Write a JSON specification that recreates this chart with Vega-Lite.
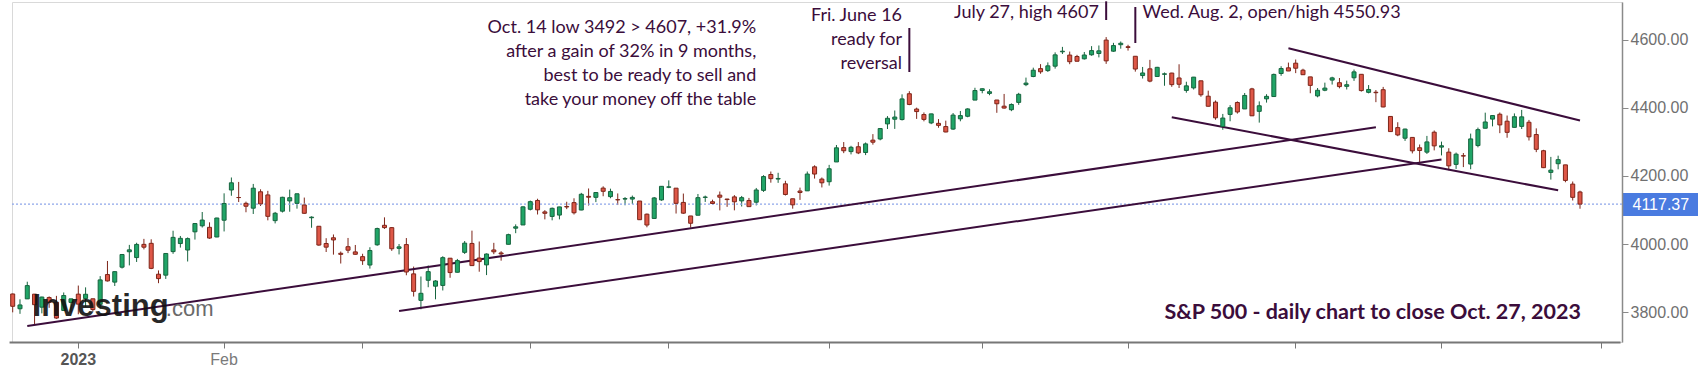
{
  "$schema": "https://vega.github.io/schema/vega-lite/v6.json",
  "width": 1610,
  "height": 340,
  "autosize": {"type": "none"},
  "padding": {"left": 12, "top": 2, "right": 76, "bottom": 29},
  "background": "#ffffff",
  "config": {"view": {"stroke": "#d9d9d9", "strokeWidth": 1}},
  "datasets": {
    "candles": [
      {"d":"2022-12-19","o":3853.8,"h":3854.9,"l":3800.0,"c":3817.7},
      {"d":"2022-12-20","o":3810.5,"h":3838.2,"l":3795.6,"c":3821.6},
      {"d":"2022-12-21","o":3839.5,"h":3889.8,"l":3839.5,"c":3878.4},
      {"d":"2022-12-22","o":3853.3,"h":3853.3,"l":3764.5,"c":3822.4},
      {"d":"2022-12-23","o":3815.1,"h":3845.8,"l":3797.0,"c":3844.8},
      {"d":"2022-12-27","o":3843.3,"h":3846.7,"l":3813.2,"c":3829.3},
      {"d":"2022-12-28","o":3829.6,"h":3848.3,"l":3780.8,"c":3783.2},
      {"d":"2022-12-29","o":3805.5,"h":3858.2,"l":3805.5,"c":3849.3},
      {"d":"2022-12-30","o":3829.1,"h":3839.9,"l":3800.3,"c":3839.5},
      {"d":"2023-01-03","o":3853.3,"h":3878.5,"l":3794.3,"c":3824.1},
      {"d":"2023-01-04","o":3840.4,"h":3873.2,"l":3815.8,"c":3853.0},
      {"d":"2023-01-05","o":3839.7,"h":3839.7,"l":3802.4,"c":3808.1},
      {"d":"2023-01-06","o":3823.4,"h":3906.2,"l":3809.6,"c":3895.1},
      {"d":"2023-01-09","o":3910.8,"h":3950.6,"l":3890.4,"c":3892.1},
      {"d":"2023-01-10","o":3888.6,"h":3919.8,"l":3877.3,"c":3919.3},
      {"d":"2023-01-11","o":3932.4,"h":3970.1,"l":3928.5,"c":3969.6},
      {"d":"2023-01-12","o":3977.6,"h":3997.8,"l":3937.6,"c":3983.2},
      {"d":"2023-01-13","o":3960.6,"h":4004.0,"l":3947.7,"c":3999.1},
      {"d":"2023-01-17","o":3999.3,"h":4015.4,"l":3984.6,"c":3991.0},
      {"d":"2023-01-18","o":4002.3,"h":4014.2,"l":3926.6,"c":3928.9},
      {"d":"2023-01-19","o":3911.8,"h":3922.9,"l":3885.5,"c":3898.9},
      {"d":"2023-01-20","o":3909.0,"h":3973.0,"l":3897.9,"c":3972.6},
      {"d":"2023-01-23","o":3978.1,"h":4039.3,"l":3971.6,"c":4019.8},
      {"d":"2023-01-24","o":4001.7,"h":4023.9,"l":3989.8,"c":4017.0},
      {"d":"2023-01-25","o":3982.7,"h":4019.6,"l":3949.1,"c":4016.2},
      {"d":"2023-01-26","o":4036.1,"h":4061.6,"l":4013.3,"c":4060.4},
      {"d":"2023-01-27","o":4053.7,"h":4094.2,"l":4048.7,"c":4070.6},
      {"d":"2023-01-30","o":4049.3,"h":4063.9,"l":4015.6,"c":4017.8},
      {"d":"2023-01-31","o":4020.9,"h":4077.2,"l":4020.4,"c":4076.6},
      {"d":"2023-02-01","o":4070.1,"h":4149.0,"l":4037.2,"c":4119.2},
      {"d":"2023-02-02","o":4158.7,"h":4195.4,"l":4141.9,"c":4179.8},
      {"d":"2023-02-03","o":4136.7,"h":4182.4,"l":4123.4,"c":4136.5},
      {"d":"2023-02-06","o":4119.6,"h":4124.6,"l":4093.4,"c":4111.1},
      {"d":"2023-02-07","o":4105.4,"h":4176.5,"l":4088.4,"c":4164.0},
      {"d":"2023-02-08","o":4153.5,"h":4160.8,"l":4111.9,"c":4117.9},
      {"d":"2023-02-09","o":4144.3,"h":4156.2,"l":4069.7,"c":4081.5},
      {"d":"2023-02-10","o":4068.9,"h":4094.4,"l":4060.8,"c":4090.5},
      {"d":"2023-02-13","o":4096.6,"h":4138.9,"l":4092.7,"c":4137.3},
      {"d":"2023-02-14","o":4126.7,"h":4159.8,"l":4095.0,"c":4136.1},
      {"d":"2023-02-15","o":4119.5,"h":4148.1,"l":4104.0,"c":4147.6},
      {"d":"2023-02-16","o":4114.8,"h":4136.5,"l":4089.5,"c":4090.4},
      {"d":"2023-02-17","o":4077.4,"h":4081.5,"l":4048.0,"c":4079.1},
      {"d":"2023-02-21","o":4052.4,"h":4052.4,"l":3995.2,"c":3997.3},
      {"d":"2023-02-22","o":4001.8,"h":4017.4,"l":3976.9,"c":3991.1},
      {"d":"2023-02-23","o":4018.6,"h":4028.3,"l":3969.2,"c":4012.3},
      {"d":"2023-02-24","o":3973.2,"h":3978.3,"l":3943.1,"c":3970.0},
      {"d":"2023-02-27","o":3992.4,"h":4018.1,"l":3973.6,"c":3982.2},
      {"d":"2023-02-28","o":3977.2,"h":3997.5,"l":3969.0,"c":3970.2},
      {"d":"2023-03-01","o":3963.3,"h":3971.7,"l":3939.1,"c":3951.4},
      {"d":"2023-03-02","o":3938.7,"h":3990.8,"l":3928.2,"c":3981.4},
      {"d":"2023-03-03","o":3998.0,"h":4048.3,"l":3995.2,"c":4045.6},
      {"d":"2023-03-06","o":4055.2,"h":4078.5,"l":4044.6,"c":4048.4},
      {"d":"2023-03-07","o":4048.3,"h":4050.0,"l":3980.3,"c":3986.4},
      {"d":"2023-03-08","o":3987.6,"h":4000.4,"l":3969.8,"c":3992.0},
      {"d":"2023-03-09","o":3998.7,"h":4017.8,"l":3908.7,"c":3918.3},
      {"d":"2023-03-10","o":3912.8,"h":3934.1,"l":3846.3,"c":3861.6},
      {"d":"2023-03-13","o":3835.1,"h":3905.1,"l":3808.9,"c":3855.8},
      {"d":"2023-03-14","o":3894.0,"h":3937.3,"l":3873.6,"c":3919.3},
      {"d":"2023-03-15","o":3876.7,"h":3894.3,"l":3838.2,"c":3891.9},
      {"d":"2023-03-16","o":3878.9,"h":3964.5,"l":3864.1,"c":3960.3},
      {"d":"2023-03-17","o":3958.7,"h":3958.9,"l":3901.3,"c":3916.6},
      {"d":"2023-03-20","o":3917.5,"h":3956.6,"l":3916.9,"c":3951.6},
      {"d":"2023-03-21","o":3975.9,"h":4009.1,"l":3971.2,"c":4002.9},
      {"d":"2023-03-22","o":4002.0,"h":4039.5,"l":3936.2,"c":3937.0},
      {"d":"2023-03-23","o":3959.2,"h":4007.7,"l":3919.1,"c":3948.7},
      {"d":"2023-03-24","o":3939.2,"h":3972.7,"l":3909.2,"c":3971.0},
      {"d":"2023-03-27","o":3982.9,"h":4003.8,"l":3970.5,"c":3977.5},
      {"d":"2023-03-28","o":3974.1,"h":3979.2,"l":3951.5,"c":3971.3},
      {"d":"2023-03-29","o":3999.5,"h":4030.6,"l":3999.5,"c":4027.8},
      {"d":"2023-03-30","o":4046.7,"h":4057.9,"l":4032.1,"c":4050.8},
      {"d":"2023-03-31","o":4056.2,"h":4110.8,"l":4056.2,"c":4109.3},
      {"d":"2023-04-03","o":4102.2,"h":4127.7,"l":4098.8,"c":4124.5},
      {"d":"2023-04-04","o":4128.0,"h":4133.1,"l":4086.9,"c":4100.6},
      {"d":"2023-04-05","o":4094.5,"h":4099.7,"l":4072.6,"c":4090.4},
      {"d":"2023-04-06","o":4081.2,"h":4107.3,"l":4069.8,"c":4105.0},
      {"d":"2023-04-10","o":4085.2,"h":4109.5,"l":4072.6,"c":4109.1},
      {"d":"2023-04-11","o":4110.3,"h":4124.3,"l":4102.6,"c":4108.9},
      {"d":"2023-04-12","o":4121.7,"h":4134.4,"l":4086.9,"c":4092.0},
      {"d":"2023-04-13","o":4100.0,"h":4150.3,"l":4099.4,"c":4146.2},
      {"d":"2023-04-14","o":4140.1,"h":4163.2,"l":4113.2,"c":4137.6},
      {"d":"2023-04-17","o":4137.2,"h":4151.7,"l":4123.2,"c":4151.3},
      {"d":"2023-04-18","o":4164.3,"h":4169.5,"l":4140.4,"c":4154.9},
      {"d":"2023-04-19","o":4139.3,"h":4162.6,"l":4134.5,"c":4154.5},
      {"d":"2023-04-20","o":4130.5,"h":4148.6,"l":4114.6,"c":4129.8},
      {"d":"2023-04-21","o":4132.1,"h":4138.0,"l":4113.9,"c":4133.5},
      {"d":"2023-04-24","o":4132.1,"h":4142.4,"l":4117.8,"c":4137.0},
      {"d":"2023-04-25","o":4126.4,"h":4126.4,"l":4071.4,"c":4071.6},
      {"d":"2023-04-26","o":4087.8,"h":4089.7,"l":4049.4,"c":4056.0},
      {"d":"2023-04-27","o":4075.3,"h":4138.2,"l":4075.3,"c":4135.4},
      {"d":"2023-04-28","o":4129.6,"h":4170.1,"l":4127.2,"c":4169.5},
      {"d":"2023-05-01","o":4166.8,"h":4186.9,"l":4164.1,"c":4167.9},
      {"d":"2023-05-02","o":4164.1,"h":4164.1,"l":4089.7,"c":4119.6},
      {"d":"2023-05-03","o":4122.3,"h":4148.3,"l":4088.9,"c":4090.8},
      {"d":"2023-05-04","o":4082.6,"h":4082.6,"l":4048.3,"c":4061.2},
      {"d":"2023-05-05","o":4084.7,"h":4147.0,"l":4084.7,"c":4136.3},
      {"d":"2023-05-08","o":4137.0,"h":4142.3,"l":4123.8,"c":4138.1},
      {"d":"2023-05-09","o":4124.3,"h":4130.4,"l":4116.7,"c":4119.2},
      {"d":"2023-05-10","o":4143.7,"h":4154.3,"l":4098.9,"c":4137.6},
      {"d":"2023-05-11","o":4132.2,"h":4132.8,"l":4109.3,"c":4130.6},
      {"d":"2023-05-12","o":4138.5,"h":4143.7,"l":4099.1,"c":4124.1},
      {"d":"2023-05-15","o":4126.7,"h":4141.3,"l":4110.3,"c":4136.3},
      {"d":"2023-05-16","o":4128.0,"h":4135.5,"l":4109.9,"c":4109.9},
      {"d":"2023-05-17","o":4122.9,"h":4164.7,"l":4113.6,"c":4158.8},
      {"d":"2023-05-18","o":4157.7,"h":4202.2,"l":4153.1,"c":4198.1},
      {"d":"2023-05-19","o":4204.2,"h":4212.9,"l":4180.2,"c":4192.0},
      {"d":"2023-05-22","o":4190.8,"h":4209.2,"l":4179.7,"c":4192.6},
      {"d":"2023-05-23","o":4176.8,"h":4185.7,"l":4142.5,"c":4145.6},
      {"d":"2023-05-24","o":4133.0,"h":4133.0,"l":4104.0,"c":4115.2},
      {"d":"2023-05-25","o":4155.7,"h":4165.7,"l":4129.7,"c":4151.3},
      {"d":"2023-05-26","o":4156.2,"h":4212.9,"l":4156.2,"c":4205.5},
      {"d":"2023-05-30","o":4226.7,"h":4231.1,"l":4192.2,"c":4205.5},
      {"d":"2023-05-31","o":4190.7,"h":4195.4,"l":4166.2,"c":4179.8},
      {"d":"2023-06-01","o":4183.0,"h":4232.4,"l":4171.6,"c":4221.0},
      {"d":"2023-06-02","o":4241.0,"h":4290.7,"l":4241.0,"c":4282.4},
      {"d":"2023-06-05","o":4283.0,"h":4299.3,"l":4266.8,"c":4273.8},
      {"d":"2023-06-06","o":4271.3,"h":4288.3,"l":4263.1,"c":4283.9},
      {"d":"2023-06-07","o":4285.5,"h":4299.2,"l":4264.0,"c":4267.5},
      {"d":"2023-06-08","o":4268.7,"h":4298.0,"l":4261.1,"c":4293.9},
      {"d":"2023-06-09","o":4304.9,"h":4322.6,"l":4291.7,"c":4298.9},
      {"d":"2023-06-12","o":4308.3,"h":4340.1,"l":4304.4,"c":4338.9},
      {"d":"2023-06-13","o":4352.6,"h":4375.4,"l":4337.5,"c":4369.0},
      {"d":"2023-06-14","o":4366.3,"h":4391.8,"l":4337.9,"c":4372.6},
      {"d":"2023-06-15","o":4365.3,"h":4439.2,"l":4362.6,"c":4425.8},
      {"d":"2023-06-16","o":4441.0,"h":4448.5,"l":4407.4,"c":4409.6},
      {"d":"2023-06-20","o":4396.1,"h":4400.2,"l":4367.2,"c":4388.7},
      {"d":"2023-06-21","o":4380.0,"h":4386.2,"l":4360.1,"c":4365.7},
      {"d":"2023-06-22","o":4355.4,"h":4382.3,"l":4351.8,"c":4381.9},
      {"d":"2023-06-23","o":4354.2,"h":4366.6,"l":4341.3,"c":4348.3},
      {"d":"2023-06-26","o":4344.8,"h":4362.1,"l":4328.1,"c":4328.8},
      {"d":"2023-06-27","o":4337.4,"h":4384.4,"l":4335.0,"c":4378.4},
      {"d":"2023-06-28","o":4367.5,"h":4390.4,"l":4360.2,"c":4376.9},
      {"d":"2023-06-29","o":4374.9,"h":4398.4,"l":4372.0,"c":4396.4},
      {"d":"2023-06-30","o":4422.4,"h":4458.5,"l":4422.4,"c":4450.4},
      {"d":"2023-07-03","o":4450.5,"h":4456.5,"l":4442.3,"c":4455.6},
      {"d":"2023-07-05","o":4442.0,"h":4454.1,"l":4436.6,"c":4446.8},
      {"d":"2023-07-06","o":4422.6,"h":4422.6,"l":4385.1,"c":4411.6},
      {"d":"2023-07-07","o":4404.5,"h":4440.4,"l":4397.4,"c":4399.0},
      {"d":"2023-07-10","o":4394.2,"h":4412.6,"l":4389.9,"c":4409.5},
      {"d":"2023-07-11","o":4415.6,"h":4443.6,"l":4408.5,"c":4439.3},
      {"d":"2023-07-12","o":4467.7,"h":4488.3,"l":4463.2,"c":4472.2},
      {"d":"2023-07-13","o":4491.5,"h":4517.4,"l":4489.4,"c":4510.0},
      {"d":"2023-07-14","o":4514.6,"h":4527.8,"l":4499.6,"c":4505.4},
      {"d":"2023-07-17","o":4508.9,"h":4532.9,"l":4504.9,"c":4522.8},
      {"d":"2023-07-18","o":4521.8,"h":4562.3,"l":4514.6,"c":4555.0},
      {"d":"2023-07-19","o":4563.9,"h":4578.4,"l":4557.5,"c":4565.7},
      {"d":"2023-07-20","o":4554.4,"h":4564.7,"l":4527.6,"c":4534.9},
      {"d":"2023-07-21","o":4550.2,"h":4555.0,"l":4535.8,"c":4536.3},
      {"d":"2023-07-24","o":4543.4,"h":4563.4,"l":4541.3,"c":4554.6},
      {"d":"2023-07-25","o":4555.2,"h":4580.6,"l":4552.4,"c":4567.5},
      {"d":"2023-07-26","o":4559.0,"h":4582.5,"l":4547.6,"c":4566.8},
      {"d":"2023-07-27","o":4598.3,"h":4607.1,"l":4528.6,"c":4537.4},
      {"d":"2023-07-28","o":4565.8,"h":4590.2,"l":4564.0,"c":4582.2},
      {"d":"2023-07-31","o":4584.8,"h":4594.2,"l":4573.1,"c":4589.0},
      {"d":"2023-08-01","o":4578.8,"h":4584.6,"l":4567.5,"c":4576.7},
      {"d":"2023-08-02","o":4550.9,"h":4550.9,"l":4505.8,"c":4513.4},
      {"d":"2023-08-03","o":4494.3,"h":4519.5,"l":4485.5,"c":4501.9},
      {"d":"2023-08-04","o":4514.0,"h":4540.3,"l":4474.6,"c":4478.0},
      {"d":"2023-08-07","o":4491.6,"h":4519.8,"l":4491.2,"c":4518.4},
      {"d":"2023-08-08","o":4498.0,"h":4503.3,"l":4464.4,"c":4499.4},
      {"d":"2023-08-09","o":4501.6,"h":4502.4,"l":4461.3,"c":4467.7},
      {"d":"2023-08-10","o":4487.2,"h":4527.4,"l":4457.9,"c":4468.8},
      {"d":"2023-08-11","o":4450.7,"h":4476.2,"l":4444.0,"c":4464.1},
      {"d":"2023-08-14","o":4458.1,"h":4490.3,"l":4453.4,"c":4489.7},
      {"d":"2023-08-15","o":4478.9,"h":4478.9,"l":4432.2,"c":4437.9},
      {"d":"2023-08-16","o":4433.8,"h":4450.0,"l":4403.6,"c":4404.3},
      {"d":"2023-08-17","o":4416.3,"h":4421.2,"l":4364.8,"c":4370.4},
      {"d":"2023-08-18","o":4344.9,"h":4381.8,"l":4335.3,"c":4369.7},
      {"d":"2023-08-21","o":4380.3,"h":4407.6,"l":4360.3,"c":4399.8},
      {"d":"2023-08-22","o":4415.3,"h":4418.6,"l":4382.8,"c":4387.6},
      {"d":"2023-08-23","o":4396.4,"h":4443.2,"l":4396.4,"c":4436.0},
      {"d":"2023-08-24","o":4455.2,"h":4458.3,"l":4375.6,"c":4376.3},
      {"d":"2023-08-25","o":4389.4,"h":4418.5,"l":4356.3,"c":4405.7},
      {"d":"2023-08-28","o":4426.0,"h":4439.6,"l":4415.0,"c":4433.3},
      {"d":"2023-08-29","o":4432.8,"h":4500.1,"l":4431.7,"c":4497.6},
      {"d":"2023-08-30","o":4500.3,"h":4521.7,"l":4493.6,"c":4514.9},
      {"d":"2023-08-31","o":4517.0,"h":4532.3,"l":4507.4,"c":4507.7},
      {"d":"2023-09-01","o":4530.6,"h":4541.3,"l":4501.4,"c":4515.8},
      {"d":"2023-09-05","o":4510.1,"h":4514.3,"l":4496.0,"c":4496.8},
      {"d":"2023-09-06","o":4490.4,"h":4490.4,"l":4442.4,"c":4465.5},
      {"d":"2023-09-07","o":4434.6,"h":4457.8,"l":4430.5,"c":4451.1},
      {"d":"2023-09-08","o":4451.3,"h":4473.5,"l":4448.4,"c":4457.5},
      {"d":"2023-09-11","o":4481.0,"h":4490.8,"l":4467.9,"c":4487.5},
      {"d":"2023-09-12","o":4473.3,"h":4487.1,"l":4456.8,"c":4461.9},
      {"d":"2023-09-13","o":4462.7,"h":4479.4,"l":4453.5,"c":4467.4},
      {"d":"2023-09-14","o":4487.8,"h":4512.0,"l":4478.7,"c":4505.1},
      {"d":"2023-09-15","o":4498.0,"h":4498.0,"l":4447.2,"c":4450.3},
      {"d":"2023-09-18","o":4445.1,"h":4466.4,"l":4442.1,"c":4453.5},
      {"d":"2023-09-19","o":4445.4,"h":4451.9,"l":4416.3,"c":4444.0},
      {"d":"2023-09-20","o":4452.8,"h":4461.0,"l":4401.4,"c":4402.2},
      {"d":"2023-09-21","o":4374.4,"h":4375.7,"l":4329.2,"c":4330.0},
      {"d":"2023-09-22","o":4341.7,"h":4357.4,"l":4316.5,"c":4320.1},
      {"d":"2023-09-25","o":4310.6,"h":4338.5,"l":4302.7,"c":4337.4},
      {"d":"2023-09-26","o":4312.9,"h":4313.0,"l":4266.0,"c":4273.5},
      {"d":"2023-09-27","o":4282.6,"h":4292.1,"l":4238.6,"c":4274.5},
      {"d":"2023-09-28","o":4269.7,"h":4317.3,"l":4264.4,"c":4299.7},
      {"d":"2023-09-29","o":4328.2,"h":4333.2,"l":4274.9,"c":4288.1},
      {"d":"2023-10-02","o":4284.5,"h":4300.6,"l":4260.2,"c":4288.4},
      {"d":"2023-10-03","o":4269.8,"h":4281.2,"l":4216.5,"c":4229.5},
      {"d":"2023-10-04","o":4233.8,"h":4268.5,"l":4220.5,"c":4263.8},
      {"d":"2023-10-05","o":4259.3,"h":4267.1,"l":4225.9,"c":4258.2},
      {"d":"2023-10-06","o":4234.8,"h":4324.1,"l":4219.6,"c":4308.5},
      {"d":"2023-10-09","o":4289.0,"h":4341.7,"l":4283.8,"c":4335.7},
      {"d":"2023-10-10","o":4339.8,"h":4385.5,"l":4339.6,"c":4358.2},
      {"d":"2023-10-11","o":4366.6,"h":4378.6,"l":4345.3,"c":4377.0},
      {"d":"2023-10-12","o":4380.9,"h":4385.9,"l":4325.4,"c":4349.6},
      {"d":"2023-10-13","o":4360.5,"h":4377.1,"l":4312.0,"c":4327.8},
      {"d":"2023-10-16","o":4342.4,"h":4383.3,"l":4342.4,"c":4373.6},
      {"d":"2023-10-17","o":4345.2,"h":4393.6,"l":4337.5,"c":4373.2},
      {"d":"2023-10-18","o":4357.4,"h":4364.2,"l":4303.8,"c":4314.6},
      {"d":"2023-10-19","o":4321.4,"h":4339.5,"l":4269.7,"c":4278.0},
      {"d":"2023-10-20","o":4273.9,"h":4276.6,"l":4223.0,"c":4224.2},
      {"d":"2023-10-23","o":4210.4,"h":4255.8,"l":4189.2,"c":4217.0},
      {"d":"2023-10-24","o":4235.8,"h":4259.4,"l":4219.4,"c":4247.7},
      {"d":"2023-10-25","o":4232.4,"h":4232.4,"l":4181.4,"c":4186.8},
      {"d":"2023-10-26","o":4176.0,"h":4183.6,"l":4127.9,"c":4137.2},
      {"d":"2023-10-27","o":4152.9,"h":4156.7,"l":4103.8,"c":4117.37}
    ],
    "trend": [
      {"id":"A","d":"2022-12-21","v":3759.9},
      {"id":"A","d":"2023-09-19","v":4342.4},
      {"id":"B","d":"2023-03-08","v":3803.6},
      {"id":"B","d":"2023-10-02","v":4248.1},
      {"id":"C","d":"2023-08-09","v":4371.9},
      {"id":"C","d":"2023-10-24","v":4157.8},
      {"id":"D","d":"2023-08-31","v":4574.2},
      {"id":"D","d":"2023-10-27","v":4362.5}
    ],
    "pointers": [
      {"d":"2023-06-16","lo":4504.7,"hi":4633.8},
      {"d":"2023-07-27","lo":4657.2,"hi":4712},
      {"d":"2023-08-02","lo":4589.8,"hi":4695.3}
    ],
    "notesRight": [
      {"d":"2023-05-17","v":4632.3,"t":"Oct. 14 low 3492 > 4607, +31.9%\nafter a gain of 32% in 9 months,\nbest to be ready to sell and\ntake your money off the table"},
      {"d":"2023-06-15","v":4669.0,"t":"Fri. June 16\nready for\nreversal"},
      {"d":"2023-07-26","v":4677.7,"t":"July 27, high 4607"}
    ],
    "notesLeft": [
      {"d":"2023-08-03","v":4677.7,"t":"Wed. Aug. 2, open/high 4550.93"}
    ],
    "caption": [
      {"d":"2023-08-08","v":3798,"t":"S&P 500 - daily chart to close Oct. 27, 2023"}
    ],
    "logo": [
      {"d":"2022-12-22","v":3789.3,"t":"Investing"}
    ],
    "logoCom": [
      {"d":"2023-01-20","v":3789.3,"t":".com"}
    ],
    "last": [
      {"v":4117.37}
    ]
  },
  "layer": [
    {
      "data": {"name": "candles"},
      "mark": {"type": "rule", "strokeWidth": 1},
      "encoding": {
        "x": {
          "field": "d", "type": "ordinal",
          "scale": {
            "type": "band",
            "domain": ["2022-12-19","2022-12-20","2022-12-21","2022-12-22","2022-12-23","2022-12-27","2022-12-28","2022-12-29","2022-12-30",
              "2023-01-03","2023-01-04","2023-01-05","2023-01-06","2023-01-09","2023-01-10","2023-01-11","2023-01-12","2023-01-13","2023-01-17","2023-01-18","2023-01-19","2023-01-20","2023-01-23","2023-01-24","2023-01-25","2023-01-26","2023-01-27","2023-01-30","2023-01-31",
              "2023-02-01","2023-02-02","2023-02-03","2023-02-06","2023-02-07","2023-02-08","2023-02-09","2023-02-10","2023-02-13","2023-02-14","2023-02-15","2023-02-16","2023-02-17","2023-02-21","2023-02-22","2023-02-23","2023-02-24","2023-02-27","2023-02-28",
              "2023-03-01","2023-03-02","2023-03-03","2023-03-06","2023-03-07","2023-03-08","2023-03-09","2023-03-10","2023-03-13","2023-03-14","2023-03-15","2023-03-16","2023-03-17","2023-03-20","2023-03-21","2023-03-22","2023-03-23","2023-03-24","2023-03-27","2023-03-28","2023-03-29","2023-03-30","2023-03-31",
              "2023-04-03","2023-04-04","2023-04-05","2023-04-06","2023-04-10","2023-04-11","2023-04-12","2023-04-13","2023-04-14","2023-04-17","2023-04-18","2023-04-19","2023-04-20","2023-04-21","2023-04-24","2023-04-25","2023-04-26","2023-04-27","2023-04-28",
              "2023-05-01","2023-05-02","2023-05-03","2023-05-04","2023-05-05","2023-05-08","2023-05-09","2023-05-10","2023-05-11","2023-05-12","2023-05-15","2023-05-16","2023-05-17","2023-05-18","2023-05-19","2023-05-22","2023-05-23","2023-05-24","2023-05-25","2023-05-26","2023-05-30","2023-05-31",
              "2023-06-01","2023-06-02","2023-06-05","2023-06-06","2023-06-07","2023-06-08","2023-06-09","2023-06-12","2023-06-13","2023-06-14","2023-06-15","2023-06-16","2023-06-20","2023-06-21","2023-06-22","2023-06-23","2023-06-26","2023-06-27","2023-06-28","2023-06-29","2023-06-30",
              "2023-07-03","2023-07-05","2023-07-06","2023-07-07","2023-07-10","2023-07-11","2023-07-12","2023-07-13","2023-07-14","2023-07-17","2023-07-18","2023-07-19","2023-07-20","2023-07-21","2023-07-24","2023-07-25","2023-07-26","2023-07-27","2023-07-28","2023-07-31",
              "2023-08-01","2023-08-02","2023-08-03","2023-08-04","2023-08-07","2023-08-08","2023-08-09","2023-08-10","2023-08-11","2023-08-14","2023-08-15","2023-08-16","2023-08-17","2023-08-18","2023-08-21","2023-08-22","2023-08-23","2023-08-24","2023-08-25","2023-08-28","2023-08-29","2023-08-30","2023-08-31",
              "2023-09-01","2023-09-05","2023-09-06","2023-09-07","2023-09-08","2023-09-11","2023-09-12","2023-09-13","2023-09-14","2023-09-15","2023-09-18","2023-09-19","2023-09-20","2023-09-21","2023-09-22","2023-09-25","2023-09-26","2023-09-27","2023-09-28","2023-09-29",
              "2023-10-02","2023-10-03","2023-10-04","2023-10-05","2023-10-06","2023-10-09","2023-10-10","2023-10-11","2023-10-12","2023-10-13","2023-10-16","2023-10-17","2023-10-18","2023-10-19","2023-10-20","2023-10-23","2023-10-24","2023-10-25","2023-10-26","2023-10-27","2023-10-30","2023-10-31",
              "2023-11-01","2023-11-02","2023-11-03"],
            "range": [-2.95, 1608.1],
            "paddingInner": 0.45,
            "paddingOuter": 0.225
          },
          "axis": {
            "values": ["2023-01-03","2023-02-01","2023-03-01","2023-04-03","2023-05-01","2023-06-01","2023-07-03","2023-08-01","2023-09-01","2023-10-02","2023-11-01"],
            "labelExpr": "datum.value == '2023-01-03' ? '2023' : (datum.value == '2023-02-01' ? 'Feb' : '')",
            "bandPosition": 0.5,
            "labelAngle": 0,
            "labelFont": "Liberation Sans",
            "labelFontSize": 16,
            "labelFontWeight": {"condition": {"test": "datum.value == '2023-01-03'", "value": "bold"}, "value": "normal"},
            "labelColor": {"condition": {"test": "datum.value == '2023-01-03'", "value": "#555555"}, "value": "#7a7a7a"},
            "labelPadding": 3,
            "labelOverlap": false,
            "tickSize": 6,
            "tickColor": "#777777",
            "domainColor": "#777777",
            "domainWidth": 2,
            "title": null
          }
        },
        "y": {
          "field": "l", "type": "quantitative",
          "scale": {"domain": [3713, 4710], "nice": false, "zero": false},
          "axis": {
            "orient": "right",
            "values": [3800, 4000, 4117.37, 4200, 4400, 4600],
            "format": ".2f",
            "title": null,
            "grid": false,
            "labelFont": "Liberation Sans",
            "labelFontSize": 16,
            "labelOverlap": false,
            "labelBound": false,
            "labelPadding": {"condition": {"test": "datum.value == 4117.37", "value": -66}, "value": 2},
            "labelColor": {"condition": {"test": "datum.value == 4117.37", "value": "#ffffff"}, "value": "#707070"},
            "tickColor": {"condition": {"test": "datum.value == 4117.37", "value": "#4a7be0"}, "value": "#8a8a8a"},
            "tickWidth": {"condition": {"test": "datum.value == 4117.37", "value": 23}, "value": 1},
            "tickSize": {"condition": {"test": "datum.value == 4117.37", "value": 76}, "value": 6},
            "domainColor": "#8a8a8a",
            "domainWidth": 1.5
          }
        },
        "y2": {"field": "h"},
        "color": {"condition": {"test": "datum.c >= datum.o", "value": "#16643e"}, "value": "#7e2519"}
      }
    },
    {
      "data": {"name": "last"},
      "mark": {"type": "rule", "strokeDash": [2, 2], "color": "#8ea6ea", "strokeWidth": 1.2},
      "encoding": {
        "y": {"field": "v", "type": "quantitative"}
      }
    },
    {
      "data": {"name": "trend"},
      "mark": {"type": "line", "strokeWidth": 2, "color": "#3b0d3b"},
      "encoding": {
        "x": {"field": "d", "type": "ordinal"},
        "y": {"field": "v", "type": "quantitative"},
        "detail": {"field": "id"}
      }
    },
    {
      "data": {"name": "pointers"},
      "mark": {"type": "rule", "strokeWidth": 2, "color": "#3b0d3b"},
      "encoding": {
        "x": {"field": "d", "type": "ordinal"},
        "y": {"field": "lo", "type": "quantitative"},
        "y2": {"field": "hi"}
      }
    },
    {
      "data": {"name": "candles"},
      "mark": {"type": "bar", "strokeWidth": 1},
      "encoding": {
        "x": {"field": "d", "type": "ordinal"},
        "y": {"field": "o", "type": "quantitative"},
        "y2": {"field": "c"},
        "fill": {"condition": {"test": "datum.c >= datum.o", "value": "#20a567"}, "value": "#de5747"},
        "stroke": {"condition": {"test": "datum.c >= datum.o", "value": "#16643e"}, "value": "#7e2519"}
      }
    },
    {
      "data": {"name": "logo"},
      "mark": {"type": "text", "align": "left", "baseline": "alphabetic", "font": "Liberation Sans", "fontSize": 31, "fontWeight": "bold", "color": "#111111", "opacity": 0.9},
      "encoding": {
        "x": {"field": "d", "type": "ordinal", "bandPosition": 0},
        "y": {"field": "v", "type": "quantitative"},
        "text": {"field": "t"}
      }
    },
    {
      "data": {"name": "logoCom"},
      "mark": {"type": "text", "align": "left", "baseline": "alphabetic", "font": "Liberation Sans", "fontSize": 22, "color": "#6a6a6a"},
      "encoding": {
        "x": {"field": "d", "type": "ordinal"},
        "y": {"field": "v", "type": "quantitative"},
        "text": {"field": "t"}
      }
    },
    {
      "data": {"name": "notesRight"},
      "mark": {"type": "text", "align": "right", "baseline": "middle", "font": "Lato", "fontSize": 18, "lineBreak": "\n", "lineHeight": 24, "color": "#3b0d3b"},
      "encoding": {
        "x": {"field": "d", "type": "ordinal"},
        "y": {"field": "v", "type": "quantitative"},
        "text": {"field": "t"}
      }
    },
    {
      "data": {"name": "notesLeft"},
      "mark": {"type": "text", "align": "left", "baseline": "middle", "font": "Lato", "fontSize": 18, "color": "#3b0d3b"},
      "encoding": {
        "x": {"field": "d", "type": "ordinal"},
        "y": {"field": "v", "type": "quantitative"},
        "text": {"field": "t"}
      }
    },
    {
      "data": {"name": "caption"},
      "mark": {"type": "text", "align": "left", "baseline": "middle", "font": "Lato", "fontSize": 21.5, "fontWeight": "bold", "color": "#3b0d3b"},
      "encoding": {
        "x": {"field": "d", "type": "ordinal"},
        "y": {"field": "v", "type": "quantitative"},
        "text": {"field": "t"}
      }
    }
  ]
}
